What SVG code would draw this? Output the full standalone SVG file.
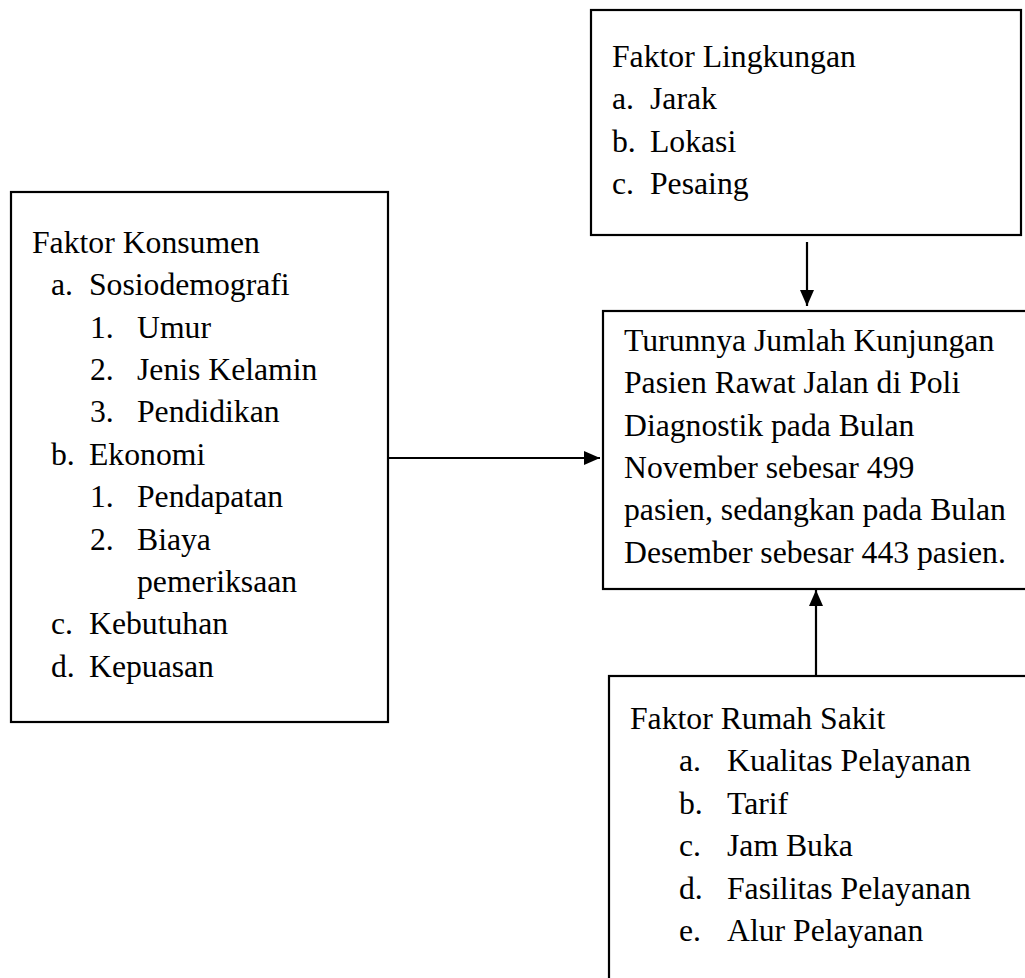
<svg xmlns="http://www.w3.org/2000/svg" width="1025" height="978" viewBox="0 0 1025 978">
<style>
.box{fill:#fff;stroke:#000;stroke-width:2.2}
.t{font-family:"Liberation Serif","Times New Roman",serif;font-size:31.7px;fill:#000}
.c{stroke:#000;stroke-width:2.2;fill:none}
</style>
<defs>
<marker id="ah" markerUnits="userSpaceOnUse" markerWidth="16" markerHeight="14" refX="16" refY="7" orient="auto">
<path d="M0,0 L16,7 L0,14 Z" fill="#000"/>
</marker>
</defs>
<rect width="1025" height="978" fill="#fff"/>
<g id="lingkungan">
<rect class="box" x="591" y="10" width="430" height="225"/>
<text class="t" x="612" y="66.7">Faktor Lingkungan</text>
<text class="t" y="109"><tspan x="612">a.</tspan><tspan x="650">Jarak</tspan></text>
<text class="t" y="151.5"><tspan x="612">b.</tspan><tspan x="650">Lokasi</tspan></text>
<text class="t" y="193.9"><tspan x="612">c.</tspan><tspan x="650">Pesaing</tspan></text>
</g>
<g id="konsumen">
<rect class="box" x="11" y="192" width="377" height="530"/>
<text class="t" x="32" y="253">Faktor Konsumen</text>
<text class="t" y="295.4"><tspan x="51">a.</tspan><tspan x="89">Sosiodemografi</tspan></text>
<text class="t" y="337.7"><tspan x="90">1.</tspan><tspan x="137">Umur</tspan></text>
<text class="t" y="380"><tspan x="90">2.</tspan><tspan x="137">Jenis Kelamin</tspan></text>
<text class="t" y="422.4"><tspan x="90">3.</tspan><tspan x="137">Pendidikan</tspan></text>
<text class="t" y="464.8"><tspan x="51">b.</tspan><tspan x="89">Ekonomi</tspan></text>
<text class="t" y="507.1"><tspan x="90">1.</tspan><tspan x="137">Pendapatan</tspan></text>
<text class="t" y="549.5"><tspan x="90">2.</tspan><tspan x="137">Biaya</tspan></text>
<text class="t" x="137" y="591.8">pemeriksaan</text>
<text class="t" y="634.2"><tspan x="51">c.</tspan><tspan x="89">Kebutuhan</tspan></text>
<text class="t" y="676.5"><tspan x="51">d.</tspan><tspan x="89">Kepuasan</tspan></text>
</g>
<g id="kunjungan">
<rect class="box" x="603" y="311" width="430" height="278"/>
<text class="t" x="624" y="350.7">Turunnya Jumlah Kunjungan</text>
<text class="t" x="624" y="393">Pasien Rawat Jalan di Poli</text>
<text class="t" x="624" y="435.5">Diagnostik pada Bulan</text>
<text class="t" x="624" y="477.9">November sebesar 499</text>
<text class="t" x="624" y="520.3">pasien, sedangkan pada Bulan</text>
<text class="t" x="624" y="562.7">Desember sebesar 443 pasien.</text>
</g>
<g id="rumahsakit">
<rect class="box" x="609" y="676" width="430" height="320"/>
<text class="t" x="630" y="729">Faktor Rumah Sakit</text>
<text class="t" y="771.4"><tspan x="679">a.</tspan><tspan x="727">Kualitas Pelayanan</tspan></text>
<text class="t" y="813.8"><tspan x="679">b.</tspan><tspan x="727">Tarif</tspan></text>
<text class="t" y="856.2"><tspan x="679">c.</tspan><tspan x="727">Jam Buka</tspan></text>
<text class="t" y="898.6"><tspan x="679">d.</tspan><tspan x="727">Fasilitas Pelayanan</tspan></text>
<text class="t" y="941"><tspan x="679">e.</tspan><tspan x="727">Alur Pelayanan</tspan></text>
</g>
<g id="connectors">
<line class="c" x1="807" y1="242" x2="807" y2="306" marker-end="url(#ah)"/>
<line class="c" x1="389" y1="458" x2="600" y2="458" marker-end="url(#ah)"/>
<line class="c" x1="816" y1="675" x2="816" y2="590" marker-end="url(#ah)"/>
</g>
</svg>
